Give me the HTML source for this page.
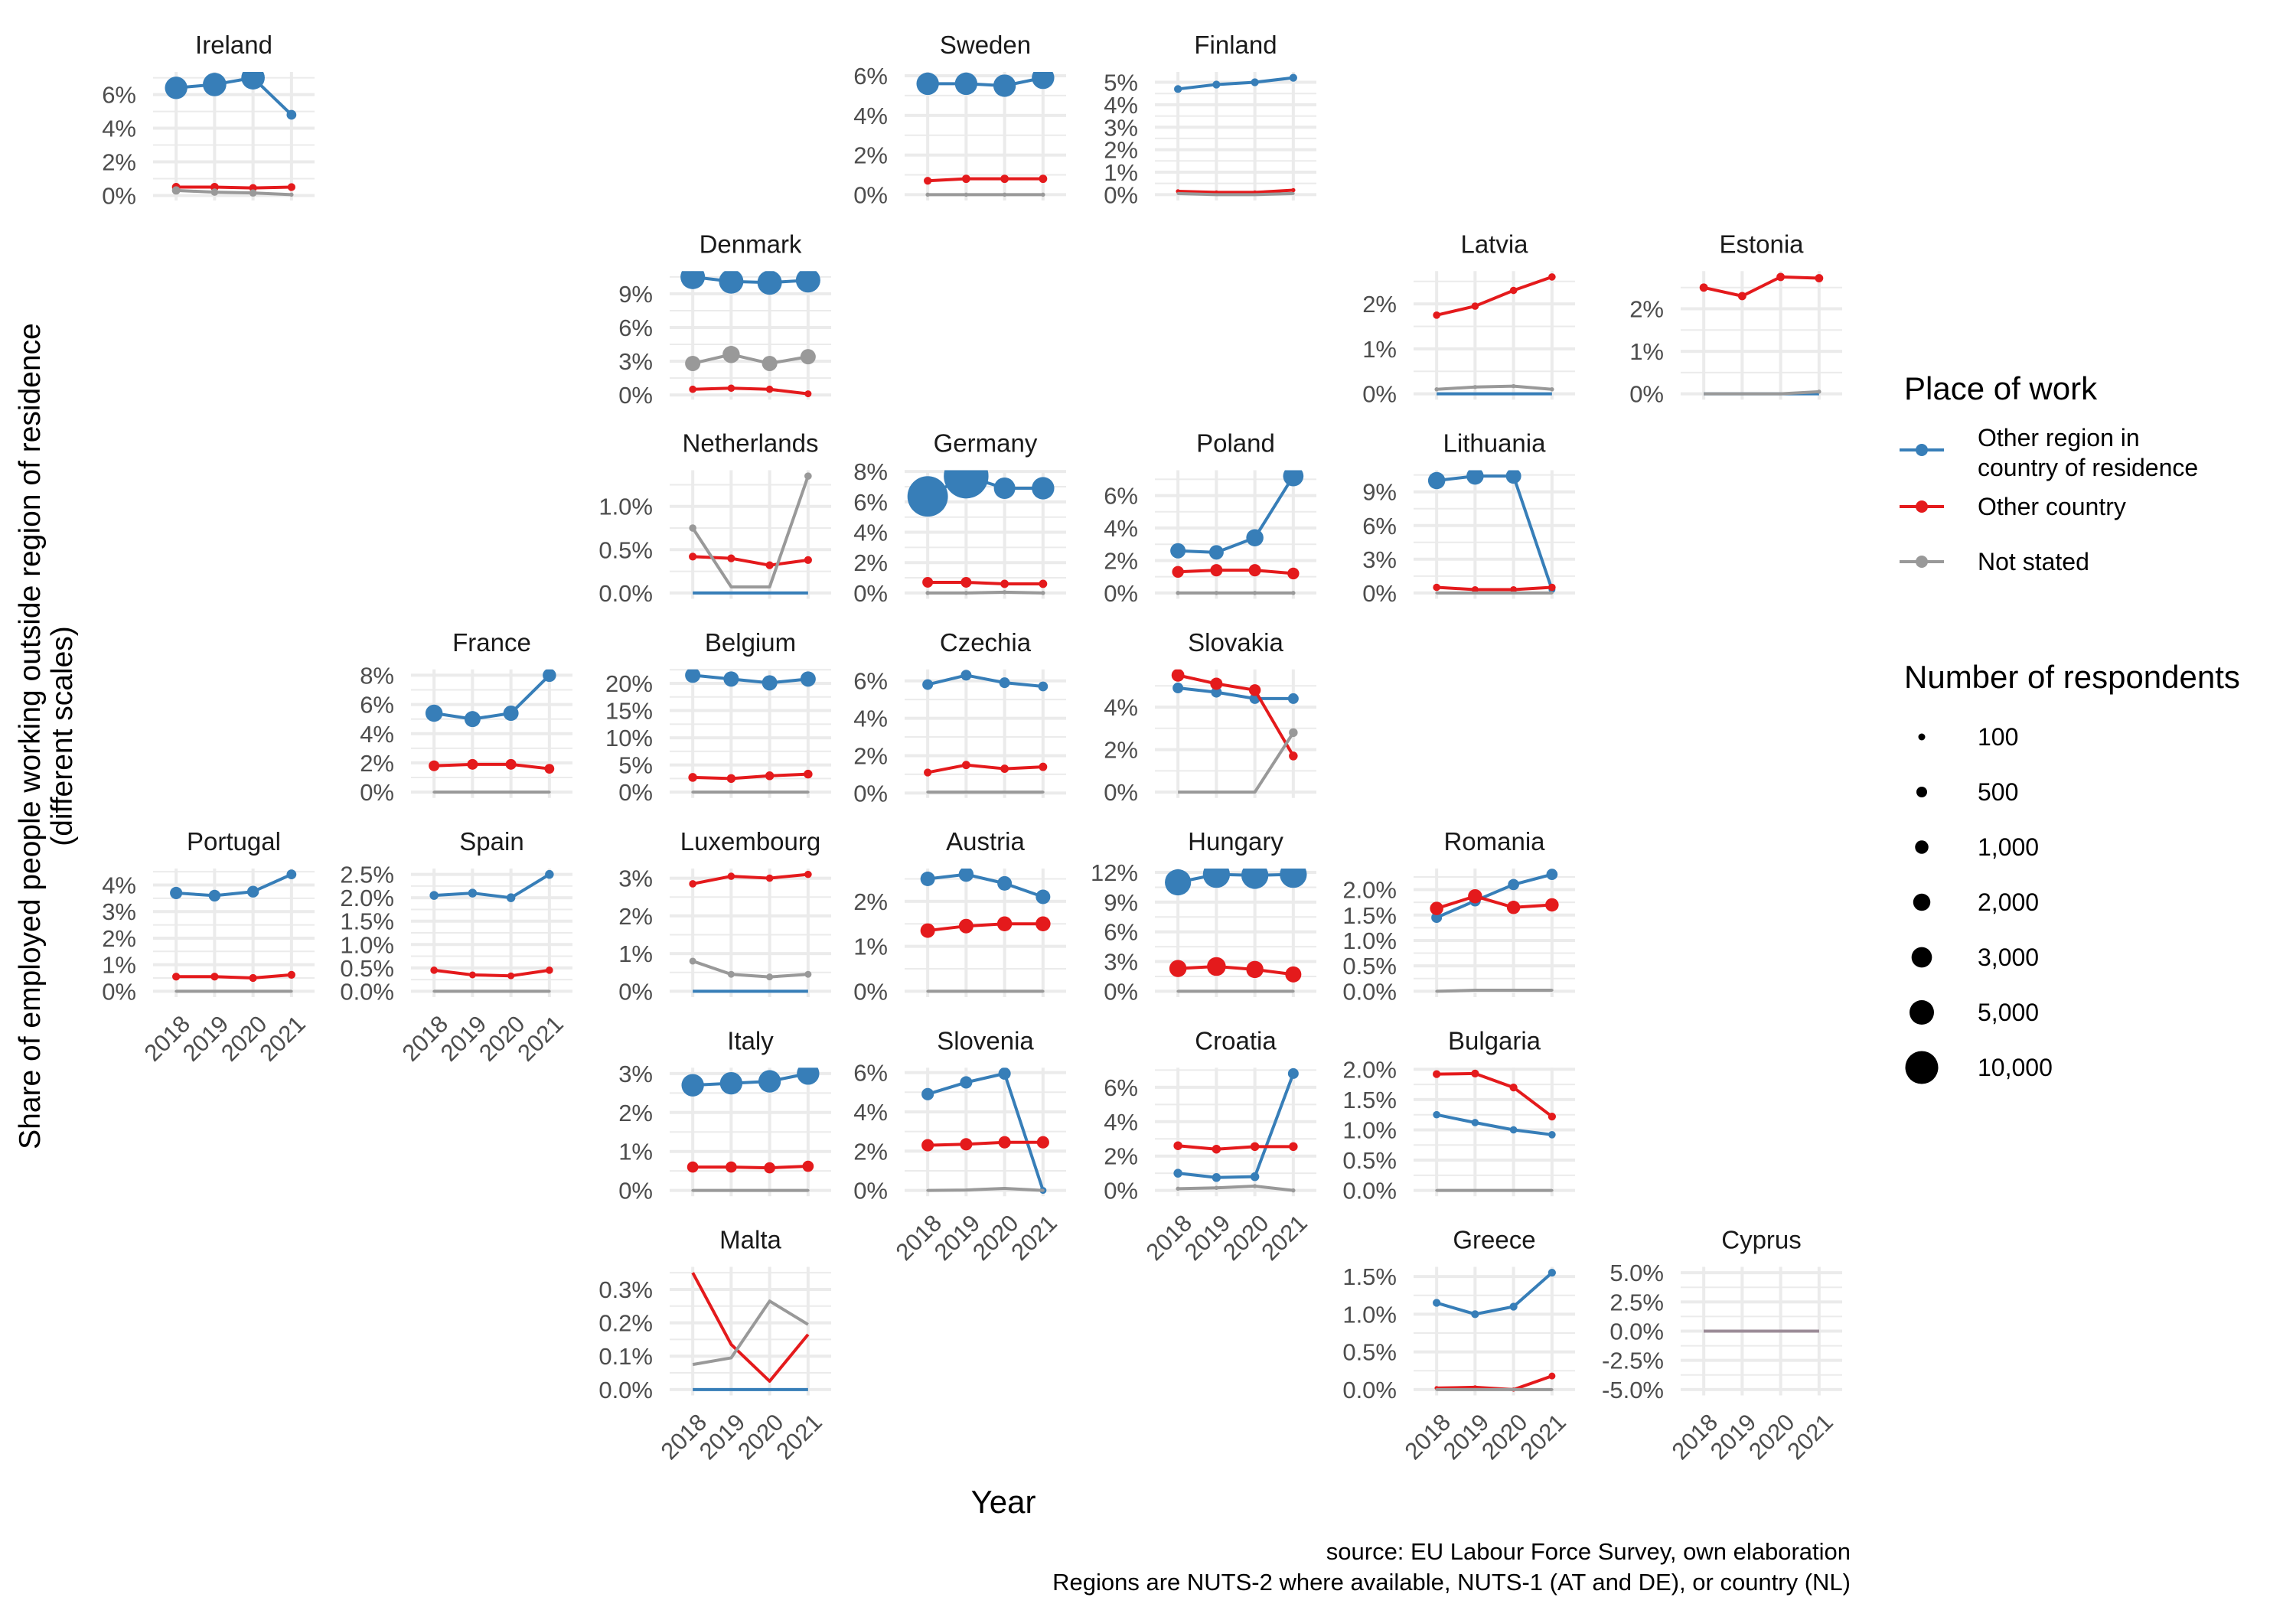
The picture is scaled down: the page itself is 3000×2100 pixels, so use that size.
<!DOCTYPE html>
<html><head><meta charset="utf-8"><style>
html,body{margin:0;padding:0;background:#fff;}
svg{display:block;font-family:"Liberation Sans",Arial,sans-serif;}
</style></head><body>
<svg id="chart" width="3000" height="2100" viewBox="0 0 3000 2100" xmlns="http://www.w3.org/2000/svg">
<rect width="3000" height="2100" fill="#fff"/>
<g id="panels"></g>
<text x="1311" y="1977" font-size="42" text-anchor="middle" fill="#000">Year</text>
<g transform="translate(52,962) rotate(-90)">
<text x="0" y="0" font-size="39" text-anchor="middle" fill="#000">Share of employed people working outside region of residence</text>
<text x="0" y="42" font-size="39" text-anchor="middle" fill="#000">(different scales)</text>
</g>
<text x="2418" y="2038" font-size="31" text-anchor="end" fill="#000">source: EU Labour Force Survey, own elaboration</text>
<text x="2418" y="2078" font-size="31" text-anchor="end" fill="#000">Regions are NUTS-2 where available, NUTS-1 (AT and DE), or country (NL)</text>
<g id="legend"></g>
</svg>
<script>
const years = ["2018","2019","2020","2021"];
const countries = ["Ireland","Sweden","Finland","Denmark","Latvia","Estonia","Netherlands","Germany","Poland","Lithuania","France","Belgium","Czechia","Slovakia","Portugal","Spain","Luxembourg","Austria","Hungary","Romania","Italy","Slovenia","Croatia","Bulgaria","Malta","Greece","Cyprus"];
const gridRow = [0,0,0,1,1,1,2,2,2,2,3,3,3,3,4,4,4,4,4,4,5,5,5,5,6,6,6];
const gridCol = [0,3,4,2,5,6,2,3,4,5,1,2,3,4,0,1,2,3,4,5,2,3,4,5,2,5,6];
// values in percent: blue = other region, red = other country, grey = not stated
const blueVals = [[6.4,6.6,7.0,4.8],[5.6,5.6,5.5,5.9],[4.7,4.9,5.0,5.2],[10.5,10.1,10.0,10.2],[0,0,0,0],[0,0,0,0],[0,0,0,0],[6.36,7.7,6.9,6.9],[2.6,2.5,3.4,7.2],[10.0,10.4,10.4,0.3],[5.4,5.0,5.4,8.0],[21.5,20.8,20.1,20.8],[5.8,6.3,5.9,5.7],[4.9,4.7,4.4,4.4],[3.7,3.6,3.75,4.4],[2.05,2.1,2.0,2.5],[0,0,0,0],[2.5,2.6,2.4,2.1],[11.0,11.8,11.7,11.8],[1.45,1.78,2.1,2.3],[2.7,2.75,2.8,3.0],[4.9,5.5,5.95,0.0],[1.0,0.75,0.8,6.8],[1.25,1.12,1.0,0.92],[0,0,0,0],[1.15,1.0,1.1,1.55],[0,0,0,0]];
const redVals = [[0.5,0.5,0.45,0.5],[0.7,0.8,0.8,0.8],[0.15,0.1,0.1,0.2],[0.5,0.6,0.5,0.1],[1.75,1.95,2.3,2.6],[2.5,2.3,2.75,2.72],[0.42,0.40,0.32,0.38],[0.7,0.7,0.6,0.6],[1.3,1.4,1.4,1.2],[0.5,0.3,0.3,0.5],[1.8,1.9,1.9,1.6],[2.7,2.5,3.0,3.3],[1.1,1.5,1.3,1.4],[5.5,5.1,4.8,1.7],[0.55,0.55,0.5,0.62],[0.45,0.35,0.33,0.45],[2.85,3.05,3.0,3.1],[1.35,1.45,1.5,1.5],[2.3,2.5,2.2,1.7],[1.63,1.87,1.65,1.7],[0.6,0.6,0.58,0.62],[2.3,2.35,2.45,2.45],[2.6,2.4,2.55,2.55],[1.92,1.93,1.7,1.22],[0.35,0.135,0.025,0.165],[0.02,0.03,0.0,0.18],[0,0,0,0]];
const greyVals = [[0.3,0.2,0.15,0.05],[0,0,0,0],[0.05,0,0,0.05],[2.8,3.6,2.8,3.4],[0.1,0.15,0.17,0.1],[0,0,0,0.05],[0.75,0.07,0.07,1.35],[0,0,0.05,0],[0,0,0,0],[0,0,0,0],[0,0,0,0],[0,0,0,0],[0.05,0.05,0.05,0.05],[0,0,0,2.8],[0,0,0,0],[0,0,0,0],[0.8,0.45,0.38,0.45],[0,0,0,0],[0,0,0,0],[0,0.02,0.02,0.02],[0,0,0,0],[0,0.02,0.1,0.0],[0.1,0.15,0.25,0.0],[0,0,0,0],[0.075,0.095,0.265,0.195],[0,0,0,0],[0,0,0,0]];
// respondents (point size)
const blueN = [[4000,4500,4500,400],[4000,4000,4000,4000],[200,200,200,200],[5000,5000,5000,5000],[0,0,0,0],[0,0,0,0],[0,0,0,0],[14500,17000,3500,4000],[1500,1300,2000,3000],[2000,2000,1500,100],[2000,1700,1500,1000],[1500,1500,1500,1500],[500,500,500,400],[500,500,500,500],[800,700,700,400],[300,300,300,300],[0,0,0,0],[1300,1400,1300,1300],[6000,6500,6500,6500],[500,600,600,600],[4000,4000,4000,4000],[800,800,800,100],[300,300,300,500],[150,150,150,150],[0,0,0,0],[200,200,200,200],[0,0,0,0]];
const redN = [[250,250,200,200],[200,250,250,250],[60,60,60,60],[150,150,150,100],[150,150,150,150],[250,250,250,250],[200,200,200,200],[500,500,250,250],[700,800,800,700],[150,100,100,150],[500,500,500,400],[300,300,300,300],[200,250,250,250],[900,800,700,300],[200,200,200,200],[150,100,100,150],[150,150,150,150],[1300,1300,1400,1400],[2000,2500,2000,1700],[1000,1200,1000,1000],[600,600,600,600],[800,800,800,800],[300,300,300,300],[200,200,200,200],[0,0,0,0],[60,60,60,100],[0,0,0,0]];
const greyN = [[250,150,150,60],[60,60,60,60],[40,40,40,40],[1500,2000,1500,1500],[60,60,60,60],[0,0,0,60],[150,0,0,150],[60,60,60,60],[60,60,60,60],[40,40,40,40],[40,40,40,40],[40,40,40,40],[40,40,40,40],[0,0,0,300],[40,40,40,40],[40,40,40,40],[100,100,100,100],[40,40,40,40],[40,40,40,40],[40,40,40,40],[40,40,40,40],[40,40,40,40],[60,60,60,60],[40,40,40,40],[0,0,0,0],[40,40,40,40],[0,0,0,0]];
const tickVals = [[0,2,4,6],[0,2,4,6],[0,1,2,3,4,5],[0,3,6,9],[0,1,2],[0,1,2],[0,0.5,1.0],[0,2,4,6,8],[0,2,4,6],[0,3,6,9],[0,2,4,6,8],[0,5,10,15,20],[0,2,4,6],[0,2,4],[0,1,2,3,4],[0,0.5,1,1.5,2,2.5],[0,1,2,3],[0,1,2],[0,3,6,9,12],[0,0.5,1,1.5,2],[0,1,2,3],[0,2,4,6],[0,2,4,6],[0,0.5,1,1.5,2],[0,0.1,0.2,0.3],[0,0.5,1,1.5],[-5,-2.5,0,2.5,5]];
const tickDec = [0,0,0,0,0,0,1,0,0,0,0,0,0,0,0,1,0,0,0,1,0,0,0,1,1,1,1];
const xLabelled = ["Portugal","Spain","Malta","Slovenia","Croatia","Greece","Cyprus"];
const legendSizes = [100,500,1000,2000,3000,5000,10000];
const legendSizeLabels = ["100","500","1,000","2,000","3,000","5,000","10,000"];

const NS="http://www.w3.org/2000/svg";
function mk(tag,attrs,parent){const e=document.createElementNS(NS,tag);for(const k in attrs)e.setAttribute(k,attrs[k]);if(parent)parent.appendChild(e);return e;}
const sizeN=[0,100,500,1000,2000,3000,5000,10000], sizeD=[0,9,14,17.5,22.5,26.7,32,43];
function diam(n){if(n<=0)return 0;for(let i=1;i<sizeN.length;i++){if(n<=sizeN[i]){const t=(n-sizeN[i-1])/(sizeN[i]-sizeN[i-1]);return sizeD[i-1]+t*(sizeD[i]-sizeD[i-1]);}}return 43+(n-10000)*0.0022;}
const colLeft=[200,537,875,1182,1509,1847,2196], PW=211, PH=168, ROWTOP=94, RSTEP=260.25;
const COLORS=["#377eb8","#e41a1c","#999999"];
const panels=document.getElementById('panels');
countries.forEach((c,i)=>{
  const L=colLeft[gridCol[i]], T=ROWTOP+gridRow[i]*RSTEP, B=T+PH;
  const g=mk('g',{},panels);
  
  
  const series=[blueVals[i],redVals[i],greyVals[i]], ns=[blueN[i],redN[i],greyN[i]];
  let all=[].concat(...series); let lo=Math.min(...all), hi=Math.max(...all);
  if(hi===lo){lo-=5;hi+=5;}
  const pad=(hi-lo)*0.05; lo-=pad; hi+=pad;
  const y=v=>B-(v-lo)/(hi-lo)*PH;
  const step=PW/4.2; const x=j=>L+step*(0.6+j);
  const ticks=tickVals[i];
  for(let k=0;k<ticks.length+1;k++){
    const d=ticks.length>1?ticks[1]-ticks[0]:1;
    const mv=(k<ticks.length?ticks[k]:ticks[ticks.length-1]+d)-d/2;
    if(mv>=lo&&mv<=hi) mk('line',{x1:L,x2:L+PW,y1:y(mv),y2:y(mv),stroke:'#ebebeb','stroke-width':2},g);
  }
  ticks.forEach(t=>{ if(t<lo||t>hi)return;
    mk('line',{x1:L,x2:L+PW,y1:y(t),y2:y(t),stroke:'#ebebeb','stroke-width':4},g);
    const tx=mk('text',{x:L-22,y:y(t)+11,'font-size':31,'text-anchor':'end',fill:'#4d4d4d'},g);
    
    
    tx.textContent=t.toFixed(tickDec[i])+'%';
  });
  years.forEach((yr,j)=>{mk('line',{x1:x(j),x2:x(j),y1:T,y2:B,stroke:'#ebebeb','stroke-width':4},g);});
  const st=mk('text',{x:L+PW/2,y:T-24,'font-size':33,'text-anchor':'middle',fill:'#1a1a1a'},g);
  
  
  st.textContent=c;
  const cid='clip'+i;
  const cp=mk('clipPath',{id:cid},g); mk('rect',{x:L,y:T,width:PW,height:PH},cp);
  const dg=mk('g',{'clip-path':'url(#'+cid+')'},g);
  series.forEach((s,si)=>{
    const col=(c==="Cyprus")?'#9b8b97':COLORS[si];
    const ln=mk('polyline',{points:s.map((v,j)=>x(j)+','+y(v)).join(' '),fill:'none',stroke:col,'stroke-width':4,'stroke-linejoin':'round'},dg);
    
    
    s.forEach((v,j)=>{const d=diam(ns[si][j]); if(d<=0)return;
      const p=mk('circle',{cx:x(j),cy:y(v),r:d/2,fill:col},dg);
      
      
    });
  });
  if(xLabelled.includes(c)){
    years.forEach((yr,j)=>{
      const t=mk('text',{transform:'translate('+(x(j)+20)+','+(B+37)+') rotate(-45)','font-size':31,'text-anchor':'end',fill:'#4d4d4d'},g);
      
      
      t.textContent=yr;
    });
  }
});
const lg=document.getElementById('legend');
mk('text',{x:2488,y:522,'font-size':42,fill:'#000'},lg).textContent='Place of work';
const keyY=[588,662,734];
const keyLabels=[["Other region in","country of residence"],["Other country"],["Not stated"]];
keyY.forEach((ky,k)=>{
  const kg=mk('g',{},lg);
  
  
  mk('line',{x1:2482,x2:2540,y1:ky,y2:ky,stroke:COLORS[k],'stroke-width':4},kg);
  mk('circle',{cx:2511,cy:ky,r:8,fill:COLORS[k]},kg);
  if(keyLabels[k].length===2){
    mk('text',{x:2584,y:583,'font-size':32,fill:'#000'},kg).textContent=keyLabels[k][0];
    mk('text',{x:2584,y:622,'font-size':32,fill:'#000'},kg).textContent=keyLabels[k][1];
  } else mk('text',{x:2584,y:ky+11,'font-size':32,fill:'#000'},kg).textContent=keyLabels[k][0];
});
mk('text',{x:2488,y:899,'font-size':42,fill:'#000'},lg).textContent='Number of respondents';
legendSizes.forEach((n,k)=>{
  const cy=963+72*k;
  const kg=mk('g',{},lg);
  
  
  mk('circle',{cx:2511,cy:cy,r:diam(n)/2,fill:'#000'},kg);
  mk('text',{x:2584,y:cy+11,'font-size':32,fill:'#000'},kg).textContent=legendSizeLabels[k];
});
</script>
</body></html>
